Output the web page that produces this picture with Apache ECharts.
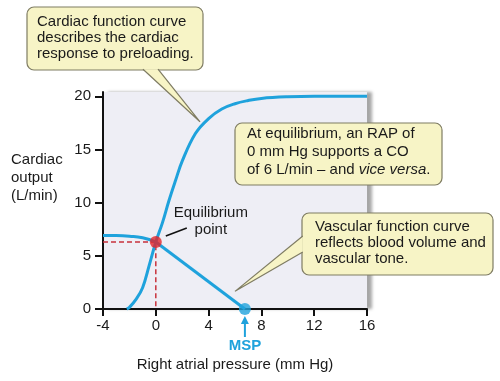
<!DOCTYPE html>
<html><head><meta charset="utf-8">
<script src="https://cdn.jsdelivr.net/npm/echarts@6/dist/echarts.min.js"></script>
<style>html,body{margin:0;padding:0;background:#fff}#c{width:500px;height:381px}</style>
</head><body><div id="c"></div>
<script>
// ---- data ----
const xTicks = [-4, 0, 4, 8, 12, 16];
const yTicks = [0, 5, 10, 15, 20];
const cardiacX = [-2.2, -2.0, -1.5, -1.0, -0.5, 0, 0.5, 1.0, 1.5, 2.0, 3.0, 4.0, 5.0, 6.0, 7.0, 8.0, 10.0, 12.0, 16.0];
const cardiacY = [0, 0.15, 0.9, 2.0, 4.1, 6.3, 8.1, 10.2, 12.1, 13.9, 16.5, 17.9, 18.8, 19.3, 19.6, 19.8, 19.95, 20, 20];
const vascularX = [-4, -3, -2, -1, 0, 6.75];
const vascularY = [6.9, 6.9, 6.85, 6.7, 6.3, 0];
const equilibrium = [0, 6.3];
const msp = [6.75, 0];
const cardiacCalloutAnchor = [3.35, 17.6];
const vascularCalloutAnchor = [6.0, 1.66];

const BLUE = '#1fa2dc';
const RED = '#e3262b';
const FILL = '#f7f4c6';
const EDGE = '#7f7c63';
const FONT = '"Liberation Sans", Arial, Helvetica, sans-serif';

const zip = (xs, ys) => xs.map((x, i) => [x, ys[i]]);

const chart = echarts.init(document.getElementById('c'), null, {renderer: 'canvas'});
const option = {
  animation: false,
  backgroundColor: '#ffffff',
  grid: {
    left: 103, right: 133, top: 92, bottom: 72, show: true,
    backgroundColor: '#eeeef5', borderWidth: 0,
    shadowColor: 'rgba(0,0,0,0.35)', shadowBlur: 3, shadowOffsetX: 5, shadowOffsetY: 0
  },
  xAxis: {
    type: 'value', min: -4, max: 16, interval: 4,
    axisLine: {onZero: false, lineStyle: {color: '#111', width: 2}},
    axisTick: {show: true, length: 7, lineStyle: {color: '#111', width: 2}},
    axisLabel: {color: '#1a1a1a', fontSize: 15, fontFamily: FONT, margin: 9,
      customValues: xTicks},
    splitLine: {show: false},
    name: 'Right atrial pressure (mm Hg)', nameLocation: 'middle', nameGap: 48,
    nameTextStyle: {color: '#1a1a1a', fontSize: 15, fontFamily: FONT}
  },
  yAxis: {
    type: 'value', min: 0, max: 20.4,
    axisLine: {show: true, onZero: false, lineStyle: {color: '#111', width: 2}},
    axisTick: {show: true, length: 8, lineStyle: {color: '#111', width: 2}, customValues: yTicks},
    axisLabel: {color: '#1a1a1a', fontSize: 15, fontFamily: FONT, margin: 12, customValues: yTicks},
    splitLine: {show: false}
  },
  series: [
    {
      type: 'line', data: [[-4, equilibrium[1]], equilibrium, [equilibrium[0], 0]],
      showSymbol: false, lineStyle: {color: '#c8323c', width: 1.5, type: [5, 3]}, z: 2
    },
    {
      type: 'line', data: zip(cardiacX, cardiacY), smooth: 0.4, showSymbol: false,
      lineStyle: {color: BLUE, width: 3}, z: 3
    },
    {
      type: 'line', data: zip(vascularX.slice(0, 5), vascularY.slice(0, 5)), smooth: 0.5, showSymbol: false,
      lineStyle: {color: BLUE, width: 3}, z: 3
    },
    {
      type: 'line', data: zip(vascularX.slice(4), vascularY.slice(4)), showSymbol: false,
      lineStyle: {color: BLUE, width: 3}, z: 3
    },
    {
      type: 'scatter', data: [equilibrium], symbolSize: 12,
      itemStyle: {color: RED}, z: 5
    },
    {
      type: 'scatter', data: [msp], symbolSize: 12, clip: false,
      itemStyle: {color: BLUE}, z: 5
    }
  ]
};
chart.setOption(option);

const px = p => chart.convertToPixel({gridIndex: 0}, p);

function callout(box, base1, base2, tip, textEl) {
  const els = [];
  els.push({
    type: 'rect', shape: {x: box.x, y: box.y, width: box.w, height: box.h, r: 7},
    style: {fill: FILL, stroke: EDGE, lineWidth: 1.2}, z: 100
  });
  if (tip) {
    els.push({
      type: 'polygon', shape: {points: [base1, tip, base2]},
      style: {fill: FILL}, z: 101
    });
    els.push({
      type: 'polyline', shape: {points: [base1, tip, base2]},
      style: {fill: null, stroke: EDGE, lineWidth: 1.2}, z: 102
    });
  }
  els.push(Object.assign({z: 103}, textEl));
  return els;
}

const g = [];
// Callout 1
const t1 = px(cardiacCalloutAnchor);
g.push(...callout({x: 27, y: 7, w: 176, h: 63}, [143, 69.2], [158, 69.2], t1, {
  type: 'text', left: 37, top: 14,
  style: {text: 'Cardiac function curve\ndescribes the cardiac\nresponse to preloading.',
    font: `15px ${FONT}`, fill: '#1a1a1a', lineHeight: 16}
}));
// Callout 2
g.push(...callout({x: 235, y: 123, w: 207, h: 62}, null, null, null, {
  type: 'text', left: 247, top: 126,
  style: {
    rich: {n: {font: `15px ${FONT}`, fill: '#1a1a1a', lineHeight: 18},
           i: {font: `italic 15px ${FONT}`, fill: '#1a1a1a', lineHeight: 18}},
    text: '{n|At equilibrium, an RAP of}\n{n|0 mm Hg supports a CO}\n{n|of 6 L/min – and }{i|vice versa}{n|.}'
  }
}));
// Callout 3
const t3 = px(vascularCalloutAnchor);
g.push(...callout({x: 302, y: 213, w: 191, h: 62}, [302.8, 236], [302.8, 252], t3, {
  type: 'text', left: 315, top: 219,
  style: {text: 'Vascular function curve\nreflects blood volume and\nvascular tone.',
    font: `15px ${FONT}`, fill: '#1a1a1a', lineHeight: 16}
}));
// Equilibrium label
const ep = px(equilibrium);
g.push({
  type: 'text', x: ep[0] + 55, y: ep[1] - 38,
  style: {text: 'Equilibrium\npoint', font: `15px ${FONT}`, fill: '#1a1a1a', align: 'center', lineHeight: 17},
  z: 50
});
g.push({
  type: 'line', shape: {x1: ep[0] + 10, y1: ep[1] - 6, x2: ep[0] + 31, y2: ep[1] - 14},
  style: {stroke: '#111', lineWidth: 1.6}, z: 50
});
// MSP arrow and label
const mp = px(msp);
g.push({
  type: 'line', shape: {x1: mp[0], y1: mp[1] + 28, x2: mp[0], y2: mp[1] + 10},
  style: {stroke: BLUE, lineWidth: 2}, z: 50
});
g.push({
  type: 'polygon', shape: {points: [[mp[0], mp[1] + 7], [mp[0] - 4, mp[1] + 15], [mp[0] + 4, mp[1] + 15]]},
  style: {fill: BLUE}, z: 50
});
g.push({
  type: 'text', x: mp[0], y: mp[1] + 29,
  style: {text: 'MSP', font: `bold 15px ${FONT}`, fill: BLUE, align: 'center'}, z: 50
});
// Y axis title
g.push({
  type: 'text', left: 11, top: 151,
  style: {text: 'Cardiac\noutput\n(L/min)', font: `15px ${FONT}`, fill: '#1a1a1a', lineHeight: 18}, z: 50
});
chart.setOption({graphic: g});
</script>
</body></html>
